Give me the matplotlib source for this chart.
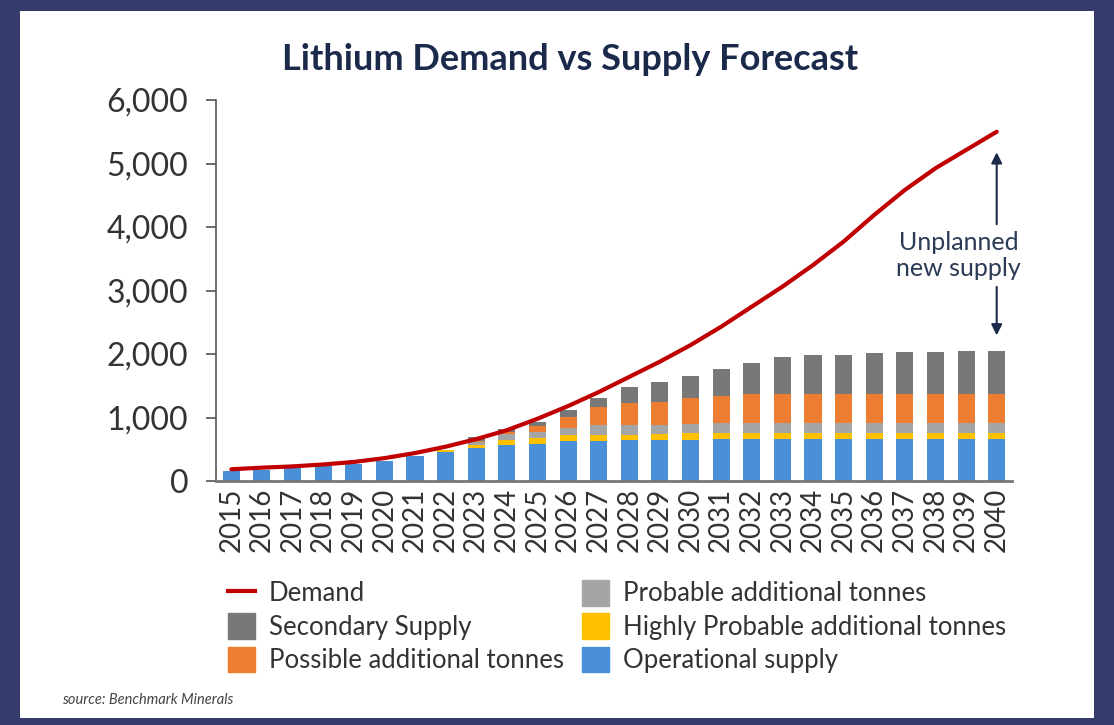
import numpy as np
import matplotlib
matplotlib.use("Agg")
import matplotlib.pyplot as plt
from matplotlib.patches import Rectangle, Patch
from matplotlib.lines import Line2D
from matplotlib.ticker import FuncFormatter

plt.rcParams['font.family'] = ['Lato', 'DejaVu Sans']

# data (thousand tonnes LCE)
years = list(range(2015, 2041))
operational = [165, 170, 200, 235, 270, 315, 395, 455, 515, 565, 585, 625, 635,
               640, 646, 650, 655, 655, 656, 656, 656, 656, 656, 656, 656, 656]
highly_probable = [0, 0, 0, 0, 0, 0, 0, 30, 50, 75, 90, 100, 90,
                   90, 94, 100, 105, 105, 105, 105, 105, 105, 105, 105, 105, 105]
probable = [0, 0, 0, 0, 0, 0, 0, 0, 50, 95, 100, 105, 158,
            152, 142, 148, 158, 158, 157, 157, 157, 157, 157, 157, 157, 157]
possible = [0, 0, 0, 0, 0, 0, 0, 0, 20, 30, 90, 185, 289,
            351, 367, 414, 421, 447, 452, 452, 452, 452, 452, 452, 452, 452]
secondary = [0, 0, 0, 0, 0, 0, 0, 0, 60, 55, 70, 100, 131,
             242, 305, 347, 420, 499, 578, 610, 620, 640, 655, 665, 675, 680]
demand = [185, 210, 230, 260, 300, 360, 440, 540, 660, 800, 980, 1180, 1400,
          1640, 1880, 2140, 2430, 2745, 3060, 3400, 3770, 4190, 4583, 4925, 5213, 5500]

c_oper = '#4A90D9'
c_high = '#FFC000'
c_prob = '#A5A5A5'
c_poss = '#ED7D31'
c_sec = '#787878'
c_dem = '#C00000'
navy = '#1B2A4A'

fig = plt.figure(figsize=(11.14, 7.25), dpi=100)
fig.patch.set_facecolor('#363B6C')
fig.patches.append(Rectangle((20 / 1114, 7 / 725), 1074 / 1114, 707 / 725,
                             transform=fig.transFigure, facecolor='white',
                             edgecolor='none', zorder=-5))

ax = fig.add_axes([216 / 1114, 1 - 481 / 725, 796 / 1114, 381 / 725])
ax.set_facecolor('none')

x = np.arange(len(years))
w = 0.56
bottom = np.zeros(len(years))
for vals, col in [(operational, c_oper), (highly_probable, c_high),
                  (probable, c_prob), (possible, c_poss), (secondary, c_sec)]:
    ax.bar(x, vals, w, bottom=bottom, color=col, zorder=2)
    bottom += np.array(vals)

ax.plot(x, demand, color=c_dem, lw=3, zorder=3, solid_capstyle='round')

ax.set_xlim(-0.5, 25.5)
ax.set_ylim(0, 6000)
ax.set_yticks(range(0, 6001, 1000))
ax.yaxis.set_major_formatter(FuncFormatter(lambda v, p: f'{int(v):,}'))
ax.set_xticks(x)
ax.set_xticklabels([str(y) for y in years], rotation=90, va='top')
ax.tick_params(axis='y', length=7, width=1.2, color='#555555', pad=13,
               labelsize=23, labelcolor='#333333')
ax.tick_params(axis='x', length=0, pad=5, labelsize=20, labelcolor='#333333')
for s in ['top', 'right']:
    ax.spines[s].set_visible(False)
ax.spines['left'].set_color('#555555')
ax.spines['left'].set_linewidth(1.2)
ax.spines['bottom'].set_color('#777777')
ax.spines['bottom'].set_linewidth(2)

# annotation
ax.text(23.75, 3550, 'Unplanned\nnew supply', ha='center', va='center',
        fontsize=18, color='#2B3A55', linespacing=1.15)
ax.annotate('', xy=(25, 5220), xytext=(25, 4000),
            arrowprops=dict(arrowstyle='-|>', color=navy, lw=1.5,
                            mutation_scale=16))
ax.annotate('', xy=(25, 2250), xytext=(25, 3100),
            arrowprops=dict(arrowstyle='-|>', color=navy, lw=1.5,
                            mutation_scale=16))

fig.text(570 / 1114, 1 - 60 / 725, 'Lithium Demand vs Supply Forecast',
         ha='center', va='center', fontsize=26, fontweight='bold', color=navy)

handles = [Line2D([], [], color=c_dem, lw=3),
           Patch(color=c_sec), Patch(color=c_poss),
           Patch(color=c_prob), Patch(color=c_high), Patch(color=c_oper)]
labels = ['Demand', 'Secondary Supply', 'Possible additional tonnes',
          'Probable additional tonnes', 'Highly Probable additional tonnes',
          'Operational supply']
leg = fig.legend(handles, labels, ncol=2, loc='upper left',
                 bbox_to_anchor=(228 / 1114, 1 - 580 / 725), frameon=False,
                 fontsize=18.5, handlelength=1.05, handleheight=1.15,
                 handletextpad=0.55, columnspacing=0.7, labelspacing=0.27,
                 borderaxespad=0, borderpad=0)
for t in leg.get_texts():
    t.set_color('#333333')

fig.text(62 / 1114, 1 - 700 / 725, 'source: Benchmark Minerals',
         ha='left', va='center', fontsize=10.5, style='italic', color='#444444')

fig.savefig('out.png', dpi=100, facecolor=fig.get_facecolor())
